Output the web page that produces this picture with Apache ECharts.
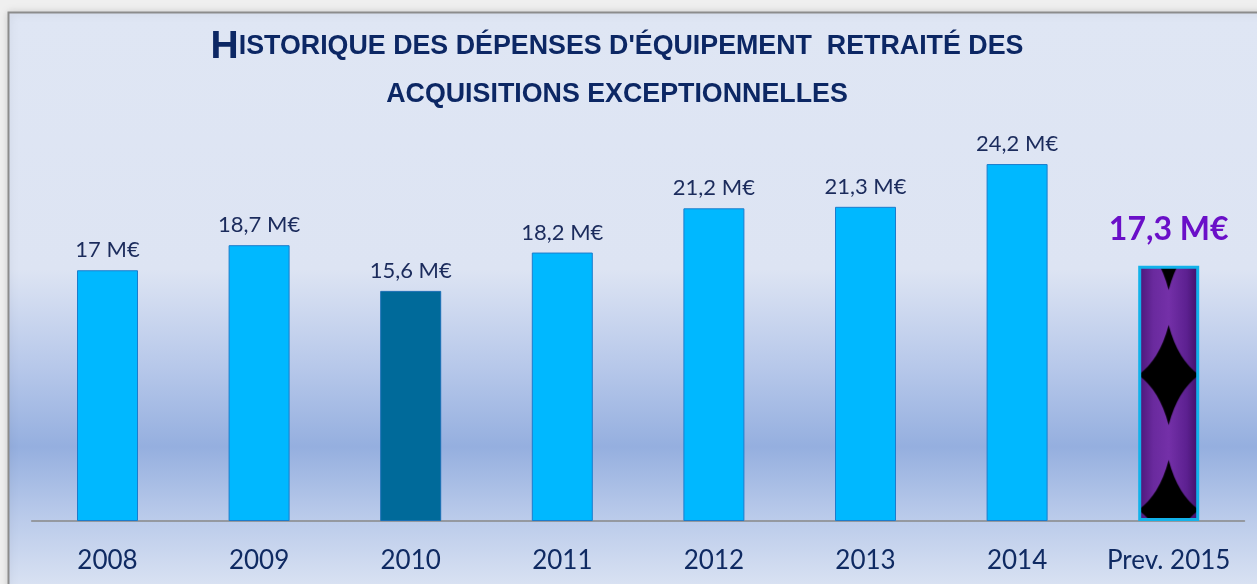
<!DOCTYPE html>
<html>
<head>
<meta charset="utf-8">
<script src="https://cdn.jsdelivr.net/npm/echarts@6/dist/echarts.min.js"></script>
<style>
  html, body { margin: 0; padding: 0; background: #efefef; }
  #main { width: 1257px; height: 584px; }
</style>
</head>
<body>
<div id="main"></div>
<script>
var years = ['2008', '2009', '2010', '2011', '2012', '2013', '2014', 'Prev. 2015'];
var values = [17, 18.7, 15.6, 18.2, 21.2, 21.3, 24.2, 17.3];
var labels = ['17 M€', '18,7 M€', '15,6 M€', '18,2 M€', '21,2 M€', '21,3 M€', '24,2 M€', '17,3 M€'];

// grid layout
var gridLeft = 31.7, gridRight = 12.5, gridTop = 108, gridBottom = 63;
var barW = 61;

// tile for the "prev" bar : purple shading with black concave stars
function makeTile() {
    var w = barW, h = 135;
    var c = document.createElement('canvas');
    c.width = w; c.height = h;
    var ctx = c.getContext('2d');
    var g = ctx.createLinearGradient(0, 0, w, 0);
    g.addColorStop(0, '#4a1677');
    g.addColorStop(0.25, '#6a2a9e');
    g.addColorStop(0.5, '#7430a8');
    g.addColorStop(0.8, '#5c2090');
    g.addColorStop(1, '#3e0f66');
    ctx.fillStyle = g;
    ctx.fillRect(0, 0, w, h);
    var cx = w / 2, hw = w / 2, hh = 50;
    var k = 0.3;
    function star(cy) {
        ctx.beginPath();
        ctx.moveTo(cx, cy - hh);
        ctx.quadraticCurveTo(cx + hw * k, cy - hh * k, cx + hw, cy);
        ctx.quadraticCurveTo(cx + hw * k, cy + hh * k, cx, cy + hh);
        ctx.quadraticCurveTo(cx - hw * k, cy + hh * k, cx - hw, cy);
        ctx.quadraticCurveTo(cx - hw * k, cy - hh * k, cx, cy - hh);
        ctx.closePath();
        ctx.fillStyle = '#000';
        ctx.fill();
    }
    star(h / 2);
    star(h / 2 - h);
    star(h / 2 + h);
    return c;
}

var catW = (1257 - gridLeft - gridRight) / years.length;
var lastX = gridLeft + catW * (years.length - 0.5) - barW / 2;

var seriesData = values.map(function (v, i) {
    var item = { value: v };
    if (i === 2) {
        item.itemStyle = { color: '#006a9a', borderColor: '#1a6fb5' };
    }
    if (i === years.length - 1) {
        item.itemStyle = {
            color: { image: makeTile(), repeat: 'repeat', x: lastX, y: 375 - 67.5 },
            borderColor: '#12b2ea',
            borderWidth: 3
        };
        item.label = {
            fontSize: 32,
            fontWeight: 'bold',
            color: '#6a0fc8',
            distance: 20
        };
    }
    return item;
});

var chart = echarts.init(document.getElementById('main'));
chart.setOption({
    animation: false,
    graphic: [{
        type: 'rect',
        z: -10,
        silent: true,
        shape: { x: 8.5, y: 12.5, width: 1300, height: 640 },
        style: {
            fill: {
                type: 'linear', x: 0, y: 12, x2: 0, y2: 584, global: true,
                colorStops: [
                    { offset: 0, color: '#dfe6f4' },
                    { offset: 0.45, color: '#dde4f3' },
                    { offset: 0.62, color: '#b7c8ea' },
                    { offset: 0.76, color: '#95afdf' },
                    { offset: 0.88, color: '#b9caea' },
                    { offset: 1, color: '#d8e1f2' }
                ]
            },
            stroke: '#8c8c8c',
            lineWidth: 2,
            shadowBlur: 8,
            shadowColor: 'rgba(0,0,0,0.15)'
        }
    }],
    title: {
        left: 612,
        top: 18,
        textAlign: 'center',
        text: '{big|H}{sm|ISTORIQUE DES DÉPENSES D\'ÉQUIPEMENT  RETRAITÉ DES}\n{sm|ACQUISITIONS EXCEPTIONNELLES}',
        textStyle: {
            lineHeight: 48,
            rich: {
                big: {
                    fontFamily: '"Liberation Sans Narrow", "Liberation Sans"',
                    fontWeight: 'bold',
                    fontSize: 39,
                    color: '#0c2764',
                    lineHeight: 48
                },
                sm: {
                    fontFamily: '"Liberation Sans Narrow", "Liberation Sans"',
                    fontWeight: 'bold',
                    fontSize: 26.8,
                    color: '#0c2764',
                    lineHeight: 48
                }
            }
        }
    },
    grid: { left: gridLeft, right: gridRight, top: gridTop, bottom: gridBottom },
    xAxis: {
        type: 'category',
        data: years,
        axisLine: { lineStyle: { color: '#888888', width: 1.5 } },
        axisTick: { show: false },
        axisLabel: {
            interval: 0,
            fontFamily: 'Lato',
            fontSize: 26,
            color: '#0f2a62',
            margin: 27
        }
    },
    yAxis: {
        type: 'value',
        min: 0,
        max: 28,
        show: false,
        splitLine: { show: false }
    },
    series: [{
        type: 'bar',
        barWidth: barW,
        data: seriesData,
        itemStyle: {
            color: '#00b8ff',
            borderColor: '#1c7ccc',
            borderWidth: 1
        },
        label: {
            show: true,
            position: 'top',
            distance: 9,
            fontFamily: 'Lato',
            fontSize: 22,
            color: '#1b2b5c',
            formatter: function (p) { return labels[p.dataIndex]; }
        }
    }]
});
</script>
</body>
</html>
